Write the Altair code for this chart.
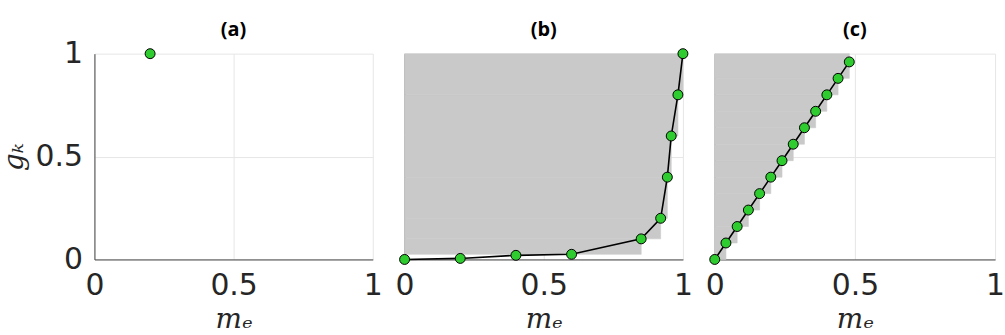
import altair as alt
import pandas as pd

# Panel (a)
a_x = [0.2]
a_y = [1.0]

# Panel (b)
b_x = [0.0, 0.2, 0.4, 0.6, 0.85, 0.92, 0.944, 0.958, 0.982, 1.0]
b_y = [0.0, 0.005, 0.02, 0.025, 0.1, 0.2, 0.4, 0.6, 0.8, 1.0]
b_shade_start = 3

# Panel (c)
c_x = [0.0, 0.04, 0.08, 0.12, 0.16, 0.2, 0.24, 0.28, 0.32, 0.36, 0.4, 0.44, 0.48]
c_y = [0.0, 0.08, 0.16, 0.24, 0.32, 0.4, 0.48, 0.56, 0.64, 0.72, 0.8, 0.88, 0.96]
c_shade_start = 0

titles = ["(a)", "(b)", "(c)"]
tick_values = [0, 0.5, 1]

GREEN = "#2fcc2f"
GRAY = "#c9c9c9"
TXT = "#262626"

H = 207


def shade_rects(xs, ys, start):
    rows = []
    for i in range(start, len(xs) - 1):
        rows.append({"x0": 0.0, "x1": xs[i + 1], "y0": ys[i], "y1": ys[i + 1]})
    if ys[-1] < 1.0:
        rows.append({"x0": 0.0, "x1": xs[-1], "y0": ys[-1], "y1": 1.0})
    return pd.DataFrame(rows)


def panel(title, xs, ys, width, shade_start=None, show_y=False):
    df = pd.DataFrame({"x": xs, "y": ys, "i": list(range(len(xs)))})
    xscale = alt.Scale(domain=[0, 1], nice=False)
    yscale = alt.Scale(domain=[0, 1], nice=False)
    xaxis = alt.Axis(
        values=tick_values, format="~g", title="mₑ", labelFlush=False,
        grid=True, gridColor="#e6e6e6", tickSize=0, labelPadding=11,
        domainColor="#444444", titlePadding=5,
    )
    if show_y:
        yaxis = alt.Axis(
            values=tick_values, format="~g", title="gₖ", labelFlush=False,
            grid=True, gridColor="#e6e6e6", tickSize=0, labelPadding=12,
            domainColor="#444444", titlePadding=7,
        )
    else:
        yaxis = alt.Axis(
            values=tick_values, labels=False, title=None,
            grid=True, gridColor="#e6e6e6", tickSize=0, domainColor="#444444",
        )
    layers = []
    base = alt.Chart(df).mark_point(opacity=0).encode(
        x=alt.X("x:Q", scale=xscale, axis=xaxis),
        y=alt.Y("y:Q", scale=yscale, axis=yaxis),
    )
    layers.append(base)
    if shade_start is not None:
        sdf = shade_rects(xs, ys, shade_start)
        rect = alt.Chart(sdf).mark_rect(
            color=GRAY, stroke=GRAY, strokeWidth=0.6, opacity=1
        ).encode(
            x=alt.X("x0:Q", scale=xscale),
            x2="x1:Q",
            y=alt.Y("y0:Q", scale=yscale),
            y2="y1:Q",
        )
        layers.append(rect)
    if len(xs) > 1:
        line = alt.Chart(df).mark_line(color="black", strokeWidth=1.6).encode(
            x=alt.X("x:Q", scale=xscale),
            y=alt.Y("y:Q", scale=yscale),
            order="i:Q",
        )
        layers.append(line)
    pts = alt.Chart(df).mark_circle(
        color=GREEN, stroke="black", strokeWidth=1, opacity=1, size=100
    ).encode(
        x=alt.X("x:Q", scale=xscale),
        y=alt.Y("y:Q", scale=yscale),
    )
    layers.append(pts)
    ttl = alt.Chart(pd.DataFrame({"t": [title]})).mark_text(
        font="Open Sans", fontSize=20, fontWeight="bold", color="black",
        baseline="bottom", align="center",
    ).encode(
        text="t:N",
        x=alt.value(width / 2),
        y=alt.value(-14),
    )
    layers.append(ttl)
    return alt.layer(*layers).properties(width=width, height=H)


pa = panel(titles[0], a_x, a_y, 280, None, show_y=True)
pb = panel(titles[1], b_x, b_y, 280, b_shade_start)
pc = panel(titles[2], c_x, c_y, 282, c_shade_start)

chart = alt.hconcat(pa, pb, pc, spacing=32, bounds="flush").configure_view(
    stroke=None
).configure_axis(
    labelFont="DejaVu Sans", labelFontSize=30, labelColor=TXT,
    titleFont="DejaVu Serif", titleFontSize=28, titleFontStyle="italic",
    titleFontWeight="normal", titleColor=TXT,
).properties(padding={"left": 0, "top": 19, "right": 0, "bottom": 0})

chart.save("out.html", embed_options={"renderer": "svg", "actions": False})
